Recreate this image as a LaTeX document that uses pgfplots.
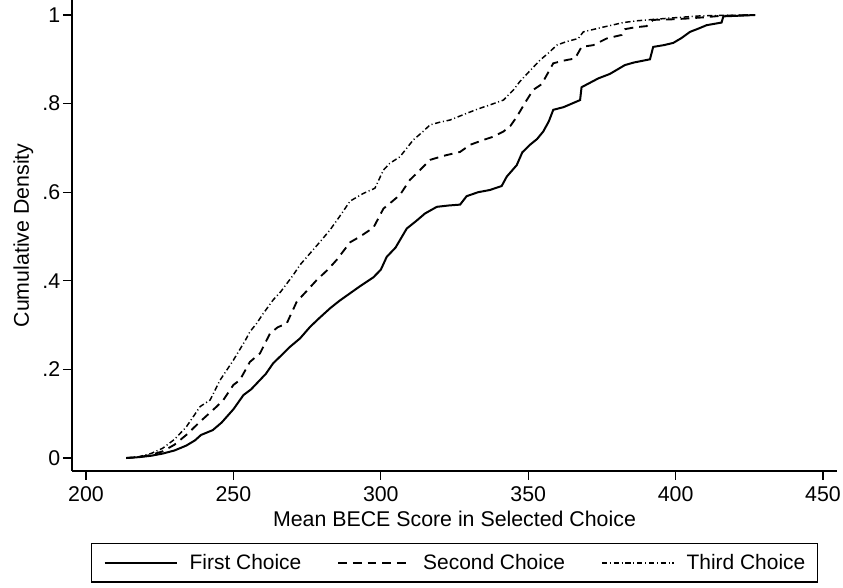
\documentclass[border=0pt]{standalone}
\usepackage{pgfplots}
\pgfplotsset{compat=1.18}
\usepackage{fontspec}
\setmainfont{Liberation Sans}
\pgfplotstableread{
x y
213.6 0
218 0.002
222 0.005
226 0.010
230 0.017
234 0.028
237 0.040
239 0.052
243 0.063
246 0.080
250 0.110
253.4 0.142
256 0.155
259 0.176
261 0.190
263.5 0.214
266 0.230
269.2 0.251
272.6 0.270
276 0.296
279 0.315
282.8 0.338
286 0.355
289.6 0.372
293 0.388
297.5 0.408
300 0.425
302 0.454
305 0.475
308.8 0.518
312 0.535
315 0.552
319 0.567
323 0.570
326.9 0.572
329.1 0.591
333 0.600
337 0.605
341 0.614
342.7 0.635
346.1 0.661
348 0.690
350.6 0.707
353 0.720
355.1 0.737
357 0.760
358.5 0.786
362 0.792
367.6 0.808
368.1 0.837
373.8 0.857
377.7 0.867
382.8 0.887
386 0.893
391.3 0.900
392.4 0.928
396 0.932
399.2 0.937
402 0.948
404.9 0.962
408 0.970
410.5 0.977
415.6 0.983
416.2 0.997
420 0.998
427 1.0
}\first
\pgfplotstableread{
x y
213.6 0
218 0.002
222 0.007
226 0.015
230 0.030
234 0.052
238.7 0.082
244.3 0.116
246.6 0.131
250 0.165
252.2 0.176
255.6 0.217
259 0.236
262.4 0.281
265 0.295
268.1 0.304
271.5 0.353
275 0.378
278.3 0.402
282 0.425
285 0.447
289.6 0.487
293 0.500
297.5 0.520
300.9 0.563
304 0.580
306.5 0.594
309.9 0.628
313.3 0.650
316.7 0.673
321.2 0.682
326.9 0.691
330.3 0.707
334.8 0.718
338 0.725
341.6 0.737
344 0.750
346.1 0.770
349.5 0.808
351.7 0.831
354.6 0.844
358.5 0.891
362 0.897
365.9 0.902
368.1 0.928
372.1 0.932
376.6 0.947
381.7 0.955
382.8 0.968
386 0.972
390.2 0.975
392.4 0.989
398 0.990
403.7 0.992
410 0.995
415.1 0.998
420 0.999
427 1.0
}\second
\pgfplotstableread{
x y
213.6 0
218 0.003
222 0.010
226 0.022
230 0.042
234 0.070
238.7 0.116
242.1 0.131
245.5 0.176
250 0.221
254 0.265
255.6 0.285
257.9 0.304
260 0.325
263.5 0.357
266 0.375
270.3 0.413
272.6 0.436
276 0.462
279 0.485
282.8 0.515
286 0.545
289.6 0.580
294 0.597
298 0.609
300.9 0.650
303 0.665
306.5 0.680
311 0.718
314 0.735
316.7 0.752
320 0.758
323.5 0.763
329.1 0.778
333 0.788
337 0.797
341.6 0.808
345 0.831
347.2 0.850
350 0.870
354 0.898
357 0.915
359.7 0.932
363 0.940
367 0.947
368.7 0.962
375 0.972
382.3 0.983
387 0.987
392.4 0.990
400 0.994
408.3 0.998
415 0.999
427 1.0
}\third
\begin{document}
\begin{tikzpicture}
\path[use as bounding box] (-54pt,-87.75pt) rectangle (578.25pt,353.25pt);
\begin{axis}[
  scale only axis, width=573.75pt, height=353.25pt,
  at={(0pt,0pt)}, anchor=south west,
  xmin=195.25, xmax=454.75, ymin=-0.0293, ymax=1.0339,
  axis x line*=bottom, axis y line*=left,
  axis line style={line width=1pt, black},
  xtick={200,250,300,350,400,450},
  xticklabels={200,250,300,350,400,450},
  ytick={0,0.2,0.4,0.6,0.8,1},
  yticklabels={0,.2,.4,.6,.8,1},
  /pgf/number format/assume math mode=true,
  tick align=outside, major tick length=6.75pt,
  tick style={black, line width=1pt},
  ticklabel style={font=\fontsize{16}{19}\selectfont},
  xticklabel style={yshift=-1.5pt},
  yticklabel style={xshift=1.5pt},
  xlabel={Mean BECE Score in Selected Choice},
  ylabel={Cumulative Density},
  label style={font=\fontsize{16}{19}\selectfont},
  xlabel style={at={(axis description cs:0.5,0)}, anchor=base, yshift=-42pt},
  legend columns=3,
  legend style={at={(axis description cs:0.5,0)}, anchor=north, yshift=-54pt,
    draw=black, line width=1pt, font=\fontsize{15.7}{18}\selectfont,
    inner xsep=9pt, inner ysep=6pt,
    nodes={inner xsep=0pt, inner ysep=2pt},
    /tikz/every odd column/.append style={column sep=9pt},
    /tikz/every even column/.append style={column sep=27pt}},
  legend image code/.code={\draw[#1] (0pt,0pt) -- (54pt,0pt);},
]
\addplot[black, line width=1.5pt, solid] table[x=x,y=y] {\first};
\addlegendentry{First Choice}
\addplot[black, line width=1.4pt, dash pattern=on 6.5pt off 4.5pt] table[x=x,y=y] {\second};
\addlegendentry{Second Choice}
\addplot[black, line width=1.1pt, dash pattern=on 4pt off 2pt on 0.8pt off 2pt] table[x=x,y=y] {\third};
\addlegendentry{Third Choice}
\end{axis}
\end{tikzpicture}
\end{document}
